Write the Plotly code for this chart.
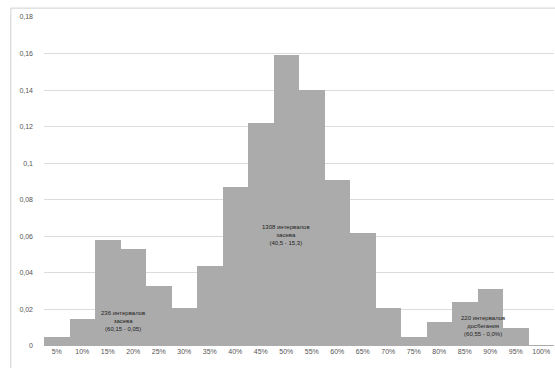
import plotly.graph_objects as go

categories = ["5%", "10%", "15%", "20%", "25%", "30%", "35%", "40%", "45%", "50%",
              "55%", "60%", "65%", "70%", "75%", "80%", "85%", "90%", "95%", "100%"]
values = [0.005, 0.015, 0.058, 0.053, 0.033, 0.021, 0.044, 0.087, 0.122, 0.159,
          0.140, 0.091, 0.062, 0.021, 0.005, 0.013, 0.024, 0.031, 0.010, 0.0005]
ytick_vals = [0, 0.02, 0.04, 0.06, 0.08, 0.1, 0.12, 0.14, 0.16, 0.18]
ytick_text = ["0", "0,02", "0,04", "0,06", "0,08", "0,1", "0,12", "0,14", "0,16", "0,18"]

# annotation positions as category index
ann_x = [2.6, 9.0, 16.7]
ann_y = [0.0135, 0.061, 0.011]
ann_text = ["236 интервалов<br>засева<br>(60,15 - 0,05)",
            "1308 интервалов<br>засева<br>(40,5 - 15,3)",
            "220 интервалов<br>досбегания<br>(60,55 - 0,0%)"]

fig = go.Figure()
fig.add_trace(go.Bar(x=categories, y=values, marker=dict(color="#ababab", line=dict(width=0)),
                     width=1.0))

for x, y, t in zip(ann_x, ann_y, ann_text):
    fig.add_annotation(x=x, y=y, text=t, showarrow=False,
                       font=dict(size=6, color="#222222", family="Liberation Sans"),
                       xanchor="center", yanchor="middle")

fig.update_layout(
    width=555, height=368,
    margin=dict(l=44, r=1, t=17, b=22),
    paper_bgcolor="white", plot_bgcolor="white",
    showlegend=False, bargap=0,
    font=dict(family="Liberation Sans", size=7, color="#555555"),
    xaxis=dict(showgrid=False, showline=False, ticks="", tickfont=dict(size=7),
               automargin=False),
    yaxis=dict(range=[0, 0.18], tickvals=ytick_vals, ticktext=ytick_text,
               showgrid=True, gridcolor="#dcdcdc", gridwidth=1, zeroline=False,
               showline=False, tickfont=dict(size=7), ticklabelstandoff=10,
               automargin=False),
    shapes=[dict(type="rect", xref="paper", yref="paper", x0=-0.065, x1=1.01, y0=-0.08, y1=1.027,
                 line=dict(color="#d0d0d0", width=1), layer="below")],
)

fig.write_html("out.html", config={"displayModeBar": False},
               post_script="document.body.style.margin='0';document.body.style.overflow='hidden';")
